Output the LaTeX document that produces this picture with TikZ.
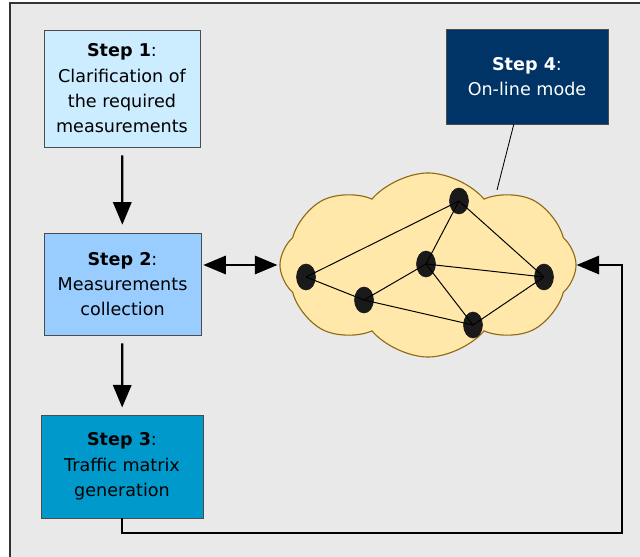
\documentclass[tikz,border=0pt]{standalone}
\usepackage{fontspec}
\setmainfont{DejaVu Sans}
\usetikzlibrary{shapes.geometric,shapes.symbols,arrows.meta}
\definecolor{panel}{HTML}{E9E9E9}
\definecolor{stepone}{HTML}{CCECFF}
\definecolor{steptwo}{HTML}{99CCFF}
\definecolor{stepthree}{HTML}{0099CC}
\definecolor{stepfour}{HTML}{003366}
\definecolor{cloudfill}{HTML}{FFE8AA}
\definecolor{cloudline}{HTML}{8F6A12}
\definecolor{hostgray}{HTML}{1A1A1A}
\begin{document}
\begin{tikzpicture}[x=0.025cm,y=-0.025cm,
  stepbox/.style={draw=black!70,rectangle,align=center,inner sep=0pt,
    font=\fontsize{12.5}{18}\selectfont},
  host/.style={ellipse,fill=hostgray,draw=hostgray,minimum width=.475cm,
    minimum height=.65cm,inner sep=0pt},
  link/.style={line width=.7pt},
  flow/.style={line width=1.6pt,-{Triangle[length=16pt,width=13pt]}}
]
    \useasboundingbox (0,0) rectangle (640,557);
    \fill[white] (0,0) rectangle (640,557);
    \fill[panel] (10,3) rectangle (640,557);
    \draw[black!80,line width=.8pt] (10,557) -- (10,3) -- (640,3);
    \node[stepbox,fill=stepone,minimum width=3.9cm,minimum height=2.925cm] (s1) at (122,88.5)
      {\textbf{Step 1}:\\Clarification of\\the required\\measurements};
    \node[stepbox,fill=steptwo,minimum width=3.925cm,minimum height=2.55cm] (s2) at (122.5,284)
      {\textbf{Step 2}:\\Measurements\\collection};
    \node[stepbox,fill=stepthree,minimum width=4.05cm,minimum height=2.575cm] (s3) at (122,466.5)
      {\textbf{Step 3}:\\Traffic matrix\\generation};
    \node[stepbox,fill=stepfour,text=white,minimum width=4.05cm,minimum height=2.375cm] (s4) at (527,76.5)
      {\textbf{Step 4}:\\On-line mode};
    \node[cloud,cloud puffs=8,cloud puff arc=100,cloud ignores aspect,draw=cloudline,
      fill=cloudfill,line width=.8pt,minimum width=7.4cm,minimum height=4.6cm,inner sep=0pt]
      (net) at (428,265) {};
    \coordinate (pin) at (497,190);
    \draw[line width=.6pt] ([xshift=-.33cm]s4.south) -- (pin);
    \node[host] (a) at (306,277) {};
    \node[host] (b) at (364,300) {};
    \node[host] (c) at (426,264) {};
    \node[host] (d) at (459,201) {};
    \node[host] (e) at (544,277) {};
    \node[host] (f) at (473,325) {};
    \draw[link] (a.center) -- (d.center);
    \draw[link] (a.center) -- (b.center);
    \draw[link] (b.center) -- (c.center);
    \draw[link] (b.center) -- (f.center);
    \draw[link] (c.center) -- (d.center);
    \draw[link] (c.center) -- (e.center);
    \draw[link] (c.center) -- (f.center);
    \draw[link] (d.center) -- (e.center);
    \draw[link] (e.center) -- (f.center);
    \draw[flow,shorten <=.2cm,shorten >=.2cm] (s1) -- (s2);
    \draw[flow,shorten <=.2cm,shorten >=.18cm] (s2) -- (s3);
    \draw[flow,{Triangle[length=16pt,width=13pt]}-{Triangle[length=16pt,width=13pt]},
      shorten <=.05cm,shorten >=.05cm] (s2.east |- net.west) -- (net.west);
    \coordinate (turn) at (622,533);
    \draw[flow] (s3.south) |- (turn) |- (net.east);
\end{tikzpicture}
\end{document}
